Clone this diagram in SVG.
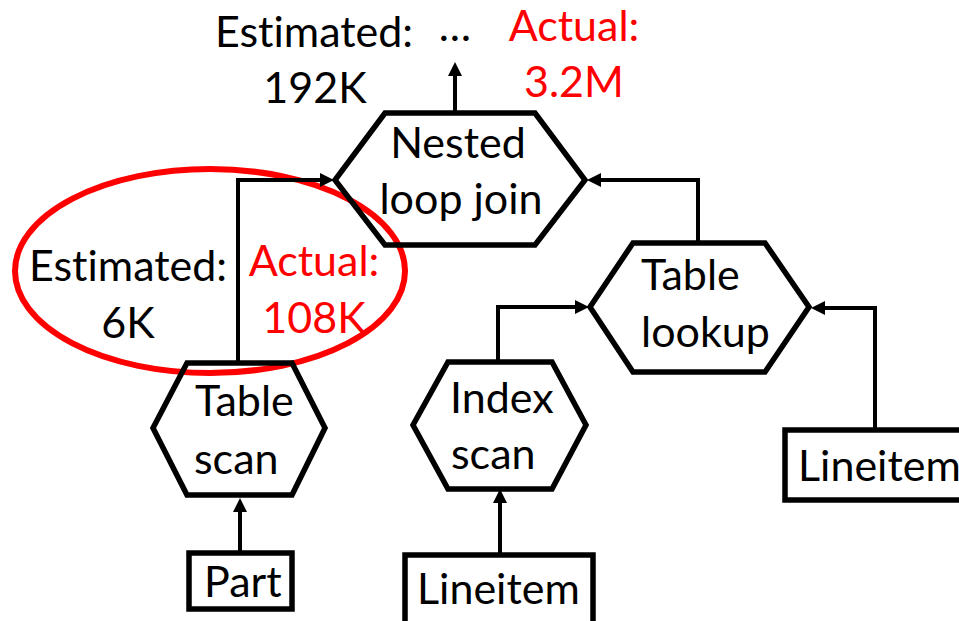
<svg xmlns="http://www.w3.org/2000/svg" width="959" height="621" viewBox="0 0 959 621">
<defs>
<style>
.t{font-family:Lato,"Open Sans","Liberation Sans",sans-serif;font-size:43px;fill:#000;font-variant-ligatures:none}
.r{fill:#ff0000}
.m{text-anchor:middle}
.hex{fill:none;stroke:#000;stroke-width:5.5;stroke-linejoin:miter}
.box{fill:#fff;stroke:#000;stroke-width:5.5}
.c{fill:none;stroke:#000;stroke-width:4}
</style>
<marker id="ah" markerUnits="userSpaceOnUse" markerWidth="14" markerHeight="14" refX="4" refY="7" orient="auto">
<path d="M0,0 L14,7 L0,14 z" fill="#000"/>
</marker>
</defs>
<rect width="959" height="621" fill="#fff"/>
<g id="highlight">
<ellipse cx="210" cy="271" rx="195" ry="102" fill="none" stroke="#ff0000" stroke-width="6"/>
</g>
<g id="labels">
<text class="t m" x="314" y="47">Estimated:</text>
<text class="t m" x="315" y="103">192K</text>
<text class="t m" x="455" y="41">…</text>
<text class="t r m" x="574" y="41">Actual:</text>
<text class="t r m" x="574" y="97">3.2M</text>
<text class="t m" x="128" y="281">Estimated:</text>
<text class="t m" x="128" y="338">6K</text>
<text class="t r m" x="314" y="276">Actual:</text>
<text class="t r m" x="314" y="333">108K</text>
</g>
<g id="connectors">
<path class="c" d="M455,113 V72" marker-end="url(#ah)"/>
<path class="c" d="M238,362 V180 H324" marker-end="url(#ah)"/>
<path class="c" d="M240,553 V508" marker-end="url(#ah)"/>
<path class="c" d="M498,362 V307 H579" marker-end="url(#ah)"/>
<path class="c" d="M500,555 V499" marker-end="url(#ah)"/>
<path class="c" d="M698,243 V180 H597" marker-end="url(#ah)"/>
<path class="c" d="M875,430 V308 H821" marker-end="url(#ah)"/>
</g>
<g id="nested-loop-join">
<polygon class="hex" points="385,113 535,113 585,180 535,245 385,245 335,180"/>
<text class="t m" x="458" y="158">Nested</text>
<text class="t m" x="461" y="214">loop join</text>
</g>
<g id="table-scan">
<polygon class="hex" points="187,363 292,363 325,428 292,495 187,495 153,428"/>
<text class="t" x="195" y="416">Table</text>
<text class="t" x="194" y="474">scan</text>
</g>
<g id="part">
<rect class="box" x="189" y="553" width="103" height="56"/>
<text class="t" x="204" y="597">Part</text>
</g>
<g id="index-scan">
<polygon class="hex" points="448,362 552,362 586,425 552,489 448,489 413,425"/>
<text class="t" x="450" y="413">Index</text>
<text class="t" x="451" y="469">scan</text>
</g>
<g id="lineitem-1">
<rect class="box" x="405" y="555" width="188" height="75"/>
<text class="t" x="417" y="604">Lineitem</text>
</g>
<g id="table-lookup">
<polygon class="hex" points="633,243 765,243 809,307 765,372 633,372 590,307"/>
<text class="t" x="641" y="290">Table</text>
<text class="t" x="641" y="347">lookup</text>
</g>
<g id="lineitem-2">
<rect class="box" x="785" y="430" width="190" height="70"/>
<text class="t" x="798" y="481">Lineitem</text>
</g>
</svg>
